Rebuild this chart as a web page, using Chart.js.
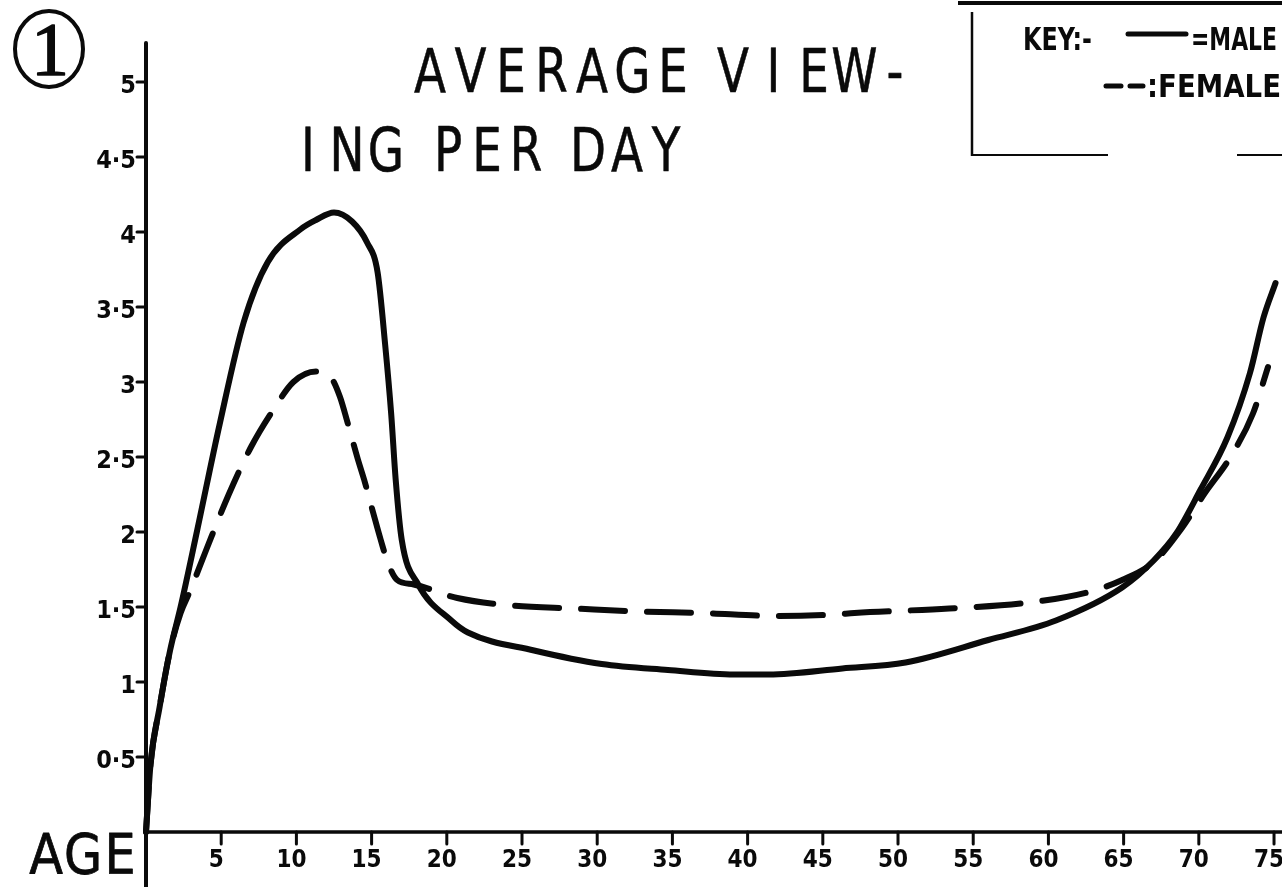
<!DOCTYPE html>
<html><head><meta charset="utf-8">
<script src="https://cdn.jsdelivr.net/npm/chart.js@4"></script>
<style>html,body{margin:0;padding:0;background:#fff;overflow:hidden}canvas{display:block}</style>
</head><body>
<canvas id="c" width="1282" height="887"></canvas>
<script>
// ---- data ----
const maleAges  = [0, 0.3, 0.9, 1.6, 2.3, 3.4, 4.9, 6.5, 8.1, 10.3, 11.3, 12.5, 13.7, 14.7, 15.4, 15.9, 16.3, 16.6, 17.0, 18.1, 20.3, 21.4, 25.8, 30.3, 34.7, 39.1, 41.4, 46.3, 50.5, 56.0, 60.5, 64.9, 67.0, 68.5, 70.1, 71.9, 73.4, 74.3, 75.1];
const maleHours = [0, 0.45, 0.83, 1.21, 1.50, 2.01, 2.72, 3.40, 3.80, 4.02, 4.08, 4.13, 4.07, 3.93, 3.73, 3.25, 2.79, 2.35, 1.95, 1.65, 1.41, 1.33, 1.21, 1.12, 1.08, 1.05, 1.05, 1.09, 1.13, 1.28, 1.41, 1.63, 1.81, 1.99, 2.28, 2.63, 3.06, 3.43, 3.66];
const femaleAges  = [0, 0.3, 0.9, 1.6, 2.3, 2.9, 4.0, 5.5, 7.0, 8.5, 9.8, 11.3, 12.3, 12.9, 13.4, 14.1, 14.5, 15.1, 15.6, 16.1, 16.7, 17.8, 20.7, 24.3, 28.5, 32.9, 36.9, 42.0, 45.8, 47.1, 53.4, 58.7, 62.7, 64.9, 67.0, 68.9, 70.4, 72.1, 73.6, 74.6];
const femaleHours = [0, 0.45, 0.83, 1.21, 1.46, 1.60, 1.88, 2.25, 2.57, 2.82, 3.00, 3.07, 3.03, 2.90, 2.73, 2.48, 2.35, 2.13, 1.95, 1.79, 1.68, 1.65, 1.56, 1.51, 1.49, 1.47, 1.46, 1.44, 1.45, 1.46, 1.49, 1.53, 1.60, 1.68, 1.80, 2.03, 2.26, 2.50, 2.79, 3.10];
const xTickValues = [5, 10, 15, 20, 25, 30, 35, 40, 45, 50, 55, 60, 65, 70, 75];
const xTickLabels = ['5', '10', '15', '20', '25', '30', '35', '40', '45', '50', '55', '60', '65', '70', '75'];
const yTickValues = [0.5, 1, 1.5, 2, 2.5, 3, 3.5, 4, 4.5, 5];
const yTickLabels = ['0·5', '1', '1·5', '2', '2·5', '3', '3·5', '4', '4·5', '5'];
const seriesNames = ['MALE', 'FEMALE'];
const titleLines = ['AVERAGE VIEW-', 'ING PER DAY'];
const xAxisTitle = 'AGE';

const ink = '#0a0a0a';

function toPoints(xs, ys) { return xs.map((x, i) => ({ x: x, y: ys[i] })); }

function spaced(ctx, text, firstCenter, baseline, pitch, spaceAdv, font, sx, stroke) {
  ctx.font = font;
  ctx.textAlign = 'center';
  ctx.textBaseline = 'alphabetic';
  ctx.lineJoin = 'round';
  let cx = firstCenter;
  for (let i = 0; i < text.length; i++) {
    const ch = text[i];
    if (ch === ' ') { cx += spaceAdv - pitch; continue; }
    ctx.save(); ctx.translate(cx, baseline); ctx.scale(sx, 1);
    ctx.fillText(ch, 0, 0);
    if (stroke) { ctx.lineWidth = stroke; ctx.strokeText(ch, 0, 0); }
    ctx.restore();
    cx += pitch;
  }
}
function fitText(ctx, text, x0, x1, baseline, font) {
  ctx.font = font;
  ctx.textAlign = 'left';
  ctx.textBaseline = 'alphabetic';
  const w = ctx.measureText(text).width;
  ctx.save(); ctx.translate(x0, baseline); ctx.scale((x1 - x0) / w, 1); ctx.fillText(text, 0, 0); ctx.restore();
}
function seg(ctx, x0, y0, x1, y1, w) {
  ctx.lineWidth = w; ctx.beginPath(); ctx.moveTo(x0, y0); ctx.lineTo(x1, y1); ctx.stroke();
}

const handPlugin = {
  id: 'hand',
  afterDraw(chart) {
    const ctx = chart.ctx;
    const xs = chart.scales.x, ys = chart.scales.y;
    const ca = chart.chartArea;
    const x0 = xs.getPixelForValue(0), y0 = ys.getPixelForValue(0);
    ctx.save();
    ctx.strokeStyle = ink; ctx.fillStyle = ink; ctx.lineCap = 'round';
    // axes
    seg(ctx, x0, ca.top, x0, chart.height, 4);
    seg(ctx, x0, y0, chart.width, y0, 3.5);
    // y ticks + labels
    yTickValues.forEach((v, i) => {
      const py = ys.getPixelForValue(v);
      seg(ctx, x0 - 9, py, x0, py, 3);
      ctx.font = 'bold 25px "DejaVu Sans Condensed"';
      ctx.textAlign = 'right'; ctx.textBaseline = 'middle';
      ctx.fillText(yTickLabels[i], x0 - 10, py + 4);
    });
    // x ticks + labels
    xTickValues.forEach((v, i) => {
      const px = xs.getPixelForValue(v);
      seg(ctx, px, y0, px, y0 + 12, 3);
      ctx.font = 'bold 24px "DejaVu Sans Condensed"';
      ctx.textAlign = 'center'; ctx.textBaseline = 'middle';
      ctx.fillText(xTickLabels[i], px - 5, y0 + 29);
    });
    // axis title
    spaced(ctx, xAxisTitle, 46, 873, 37, 37, '56px "DejaVu Sans"', 0.88, 0.8);
    // title
    spaced(ctx, titleLines[0], 430, 92, 40.5, 60, '60px "DejaVu Sans"', 0.78, 0.6);
    spaced(ctx, titleLines[1], 308, 171, 39, 62, '60px "DejaVu Sans"', 0.78, 0.6);
    // circled number
    ctx.lineWidth = 4;
    ctx.beginPath(); ctx.ellipse(49, 49, 34, 38, 0, 0, Math.PI * 2); ctx.stroke();
    ctx.font = '76px "Liberation Serif"'; ctx.textAlign = 'center'; ctx.textBaseline = 'alphabetic';
    ctx.fillText('1', 50, 75);
    ctx.lineWidth = 1.5; ctx.strokeText('1', 50, 75);
    // key box
    ctx.lineCap = 'butt';
    seg(ctx, 958, 3, 1282, 3, 4);
    seg(ctx, 972, 12, 972, 156, 2.5);
    seg(ctx, 971, 155, 1108, 155, 2);
    seg(ctx, 1237, 155, 1282, 155, 2);
    ctx.lineCap = 'round';
    fitText(ctx, 'KEY:-', 1023, 1092, 50, 'bold 32px "DejaVu Sans Condensed"');
    seg(ctx, 1128, 34, 1186, 34, 5);
    fitText(ctx, '=' + seriesNames[0], 1191, 1277, 50, 'bold 32px "DejaVu Sans Condensed"');
    ctx.setLineDash([15, 9]);
    seg(ctx, 1106, 86, 1143, 86, 5);
    ctx.setLineDash([]);
    fitText(ctx, ':' + seriesNames[1], 1147, 1281, 97, 'bold 32px "DejaVu Sans Condensed"');
    ctx.restore();
  }
};

new Chart(document.getElementById('c'), {
  type: 'line',
  data: {
    datasets: [
      { label: seriesNames[0], data: toPoints(maleAges, maleHours), borderColor: ink, borderWidth: 6,
        pointRadius: 0, fill: false, cubicInterpolationMode: 'monotone', borderCapStyle: 'round', borderJoinStyle: 'round' },
      { label: seriesNames[1], data: toPoints(femaleAges, femaleHours), borderColor: ink, borderWidth: 6,
        borderDash: [44, 22], pointRadius: 0, fill: false, cubicInterpolationMode: 'monotone', borderCapStyle: 'round', borderJoinStyle: 'round' }
    ]
  },
  options: {
    responsive: false, animation: false, devicePixelRatio: 1,
    layout: { padding: { left: 146, top: 43, right: 0, bottom: 55 } },
    scales: {
      x: { type: 'linear', min: 0, max: 75.53, display: false },
      y: { type: 'linear', min: 0, max: 5.26, display: false }
    },
    plugins: { legend: { display: false }, tooltip: { enabled: false }, title: { display: false } },
    clip: 8
  },
  plugins: [handPlugin]
});
</script>
</body></html>
